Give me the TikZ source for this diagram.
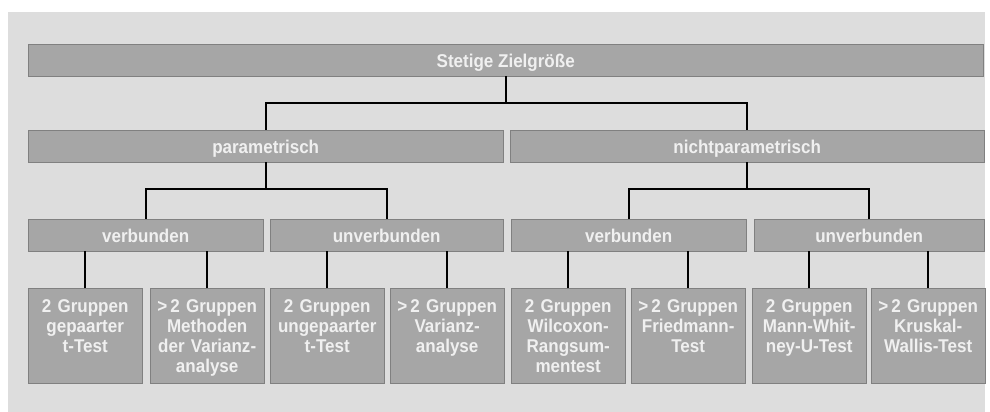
\documentclass[tikz,border=0pt]{standalone}
\usepackage{fontspec}
\setmainfont{Liberation Sans}[FakeStretch=0.92]
\definecolor{panel}{RGB}{221,221,221}
\definecolor{barfill}{RGB}{166,166,166}
\definecolor{barline}{RGB}{128,128,128}
\definecolor{bartext}{RGB}{240,240,240}
\begin{document}
\begin{tikzpicture}[x=1pt,y=-1pt,
  bar/.style={draw=barline,thin,fill=barfill,text=bartext,anchor=north west,
    minimum height=32pt,inner sep=0pt,text height=16pt,text depth=2pt,
    font=\fontsize{18.5}{20}\selectfont\bfseries},
  testbox/.style={draw=barline,thin,fill=barfill,text=bartext,anchor=north west,
    text width=110pt,inner xsep=2pt,inner ysep=10pt,align=center,
    text height=14pt,text depth=61pt,font=\fontsize{18.5}{20}\selectfont\bfseries},
  link/.style={draw=black,line width=2pt}]
\useasboundingbox (0,0) rectangle (990,412);
\fill[panel] (8,12) rectangle (985,412);
% bars
\node[bar,minimum width=955pt] (stetig) at (28,44) {Stetige Zielgröße};
\node[bar,minimum width=475pt] (param) at (28,130) {parametrisch};
\node[bar,minimum width=474pt] (nparam) at (510,130) {nichtparametrisch};
\node[bar,minimum width=235pt] (pverb) at (28,219) {verbunden};
\node[bar,minimum width=233pt] (punverb) at (270,219) {unverbunden};
\node[bar,minimum width=235pt] (nverb) at (511,219) {verbunden};
\node[bar,minimum width=230pt] (nunverb) at (754,219) {unverbunden};
% tests
\node[testbox] (t1) at (28,288) {2 Gruppen\\gepaarter\\t-Test};
\node[testbox] (t2) at (150,288) {>\,2 Gruppen\\Methoden\\der Varianz-\\analyse};
\node[testbox] (t3) at (270,288) {2 Gruppen\\ungepaarter\\t-Test};
\node[testbox] (t4) at (390,288) {>\,2 Gruppen\\Varianz-\\analyse};
\node[testbox] (t5) at (511,288) {2 Gruppen\\Wilcoxon-\\Rangsum-\\mentest};
\node[testbox] (t6) at (631,288) {>\,2 Gruppen\\Friedmann-\\Test};
\node[testbox] (t7) at (752,288) {2 Gruppen\\Mann-Whit-\\ney-U-Test};
\node[testbox] (t8) at (871,288) {>\,2 Gruppen\\Kruskal-\\Wallis-Test};
% links
\draw[link] (stetig.south) -- ++(0,27) -| (param.north);
\draw[link] (stetig.south) -- ++(0,27) -| (nparam.north);
\draw[link] (param.south) -- ++(0,27) -| (pverb.north);
\draw[link] (param.south) -- ++(0,27) -| (punverb.north);
\draw[link] (nparam.south) -- ++(0,27) -| (nverb.north);
\draw[link] (nparam.south) -- ++(0,27) -| (nunverb.north);
\draw[link] (t1.north) -- (t1.north |- pverb.south);
\draw[link] (t2.north) -- (t2.north |- pverb.south);
\draw[link] (t3.north) -- (t3.north |- punverb.south);
\draw[link] (t4.north) -- (t4.north |- punverb.south);
\draw[link] (t5.north) -- (t5.north |- nverb.south);
\draw[link] (t6.north) -- (t6.north |- nverb.south);
\draw[link] (t7.north) -- (t7.north |- nunverb.south);
\draw[link] (t8.north) -- (t8.north |- nunverb.south);
\end{tikzpicture}
\end{document}
